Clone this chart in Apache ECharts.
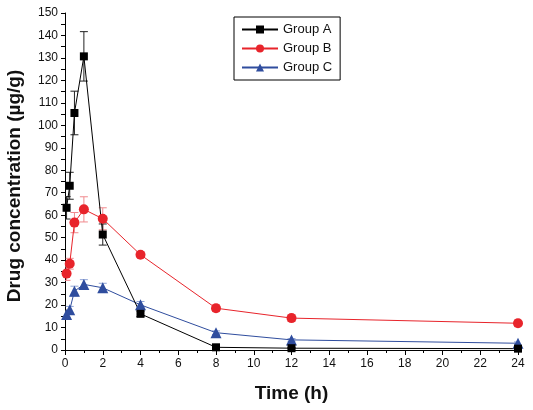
<!DOCTYPE html>
<html>
<head>
<meta charset="utf-8">
<script src="https://cdn.jsdelivr.net/npm/echarts@6/dist/echarts.min.js"></script>
<style>html,body{margin:0;padding:0;background:#fff}#c{width:533px;height:410px}</style>
</head>
<body>
<div id="c"></div>
<script>
const times = [0.083, 0.25, 0.5, 1, 2, 4, 8, 12, 24];
const groupA = [63.3, 73.1, 105.5, 130.7, 51.4, 16.1, 1.2, 0.8, 0.6];
const groupB = [34.0, 38.4, 56.7, 62.6, 58.4, 42.4, 18.6, 14.2, 11.9];
const groupC = [15.8, 17.9, 26.2, 29.2, 27.7, 20.1, 7.7, 4.5, 3.0];
const sdA = [5, 6, 9.7, 11, 4.7, 1.2, 0.5, 0.3, 0.3];
const sdB = [3, 2.4, 4.5, 5.6, 4.9, 1.2, 1.5, 1.5, 1.5];
const sdC = [1.5, 1.5, 2.2, 2.1, 2.0, 1.5, 0.8, 0.6, 0.6];
const seriesNames = ['Group A', 'Group B', 'Group C'];
const xTicks = [0, 2, 4, 6, 8, 10, 12, 14, 16, 18, 20, 22, 24];
const yTicks = [0, 10, 20, 30, 40, 50, 60, 70, 80, 90, 100, 110, 120, 130, 140, 150];

const colA = '#000000', colB = '#e8242b', colC = '#2f4d9e';
const errA = '#222222', errB = '#f08a8e', errC = '#8ea3d6';
const font = 'Liberation Sans, Arial, sans-serif';

function pairs(vals) { return times.map((t, i) => [t, vals[i]]); }
function errs(vals, sd) { return times.map((t, i) => [t, vals[i] - sd[i], vals[i] + sd[i]]); }
function errRender(color) {
  return function (params, api) {
    const x = api.value(0), lo = api.value(1), hi = api.value(2);
    const p1 = api.coord([x, hi]), p2 = api.coord([x, lo]);
    const w = 4;
    const st = { stroke: color, lineWidth: 1 };
    return { type: 'group', children: [
      { type: 'line', shape: { x1: p1[0], y1: p1[1], x2: p2[0], y2: p2[1] }, style: st },
      { type: 'line', shape: { x1: p1[0] - w, y1: p1[1], x2: p1[0] + w, y2: p1[1] }, style: st },
      { type: 'line', shape: { x1: p2[0] - w, y1: p2[1], x2: p2[0] + w, y2: p2[1] }, style: st }
    ]};
  };
}
function errSeries(vals, sd, color) {
  return { type: 'custom', renderItem: errRender(color), data: errs(vals, sd), z: 1, clip: true,
    encode: { x: 0, y: [1, 2] }, silent: true };
}
function lineSeries(name, vals, color, symbol, size) {
  return { name: name, type: 'line', data: pairs(vals), symbol: symbol, symbolSize: size,
    showAllSymbol: true, z: 3,
    lineStyle: { color: color, width: 1 }, itemStyle: { color: color, borderWidth: 0 } };
}

const chart = echarts.init(document.getElementById('c'), null, { renderer: 'canvas' });
chart.setOption({
  animation: false,
  backgroundColor: '#ffffff',
  textStyle: { fontFamily: font },
  grid: { left: 65, right: 15, top: 13, bottom: 60 },
  legend: {
    data: seriesNames, orient: 'vertical', left: 234, top: 17,
    padding: [6, 8, 6, 7], itemGap: 6, itemWidth: 36, itemHeight: 10,
    borderColor: '#000', borderWidth: 1,
    textStyle: { fontFamily: font, fontSize: 13, color: '#111' }
  },
  xAxis: {
    type: 'value', min: 0, max: 24, interval: 2,
    name: 'Time (h)', nameLocation: 'middle', nameGap: 34,
    nameTextStyle: { fontFamily: font, fontSize: 19, fontWeight: 'bold', color: '#111' },
    axisLine: { lineStyle: { color: '#000', width: 1 } },
    axisTick: { show: true, length: 5, lineStyle: { color: '#000' } },
    minorTick: { show: true, splitNumber: 2, length: 3, lineStyle: { color: '#000' } },
    axisLabel: { fontFamily: font, fontSize: 12, color: '#111', margin: 8,
      formatter: v => xTicks.includes(v) ? String(v) : '' },
    splitLine: { show: false }
  },
  yAxis: {
    type: 'value', min: 0, max: 150, interval: 10,
    axisLine: { show: true, lineStyle: { color: '#000', width: 1 } },
    axisTick: { show: true, length: 4, lineStyle: { color: '#000' } },
    minorTick: { show: true, splitNumber: 2, length: 4, lineStyle: { color: '#000' } },
    axisLabel: { fontFamily: font, fontSize: 12, color: '#111', margin: 7,
      formatter: v => yTicks.includes(v) ? String(v) : '' },
    splitLine: { show: false }
  },
  graphic: [{
    type: 'text', x: 15, y: 186, rotation: Math.PI / 2,
    style: { text: 'Drug concentration (µg/g)', font: 'bold 19px ' + font, fill: '#111',
      textAlign: 'center', textVerticalAlign: 'middle' }
  }],
  series: [
    errSeries(groupC, sdC, errC),
    errSeries(groupB, sdB, errB),
    errSeries(groupA, sdA, errA),
    lineSeries('Group C', groupC, colC, 'triangle', 11),
    lineSeries('Group B', groupB, colB, 'circle', 10),
    lineSeries('Group A', groupA, colA, 'rect', 8)
  ]
});
</script>
</body>
</html>
